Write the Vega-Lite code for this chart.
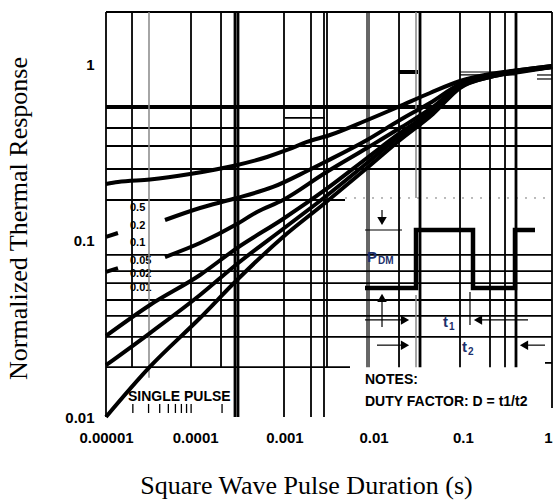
{
  "$schema": "https://vega.github.io/schema/vega-lite/v6.json",
  "width": 446,
  "height": 405,
  "autosize": {"type": "none"},
  "padding": {"left": 106, "top": 12, "right": 3, "bottom": 83},
  "background": "white",
  "config": {
    "view": {"stroke": null},
    "axis": {
      "grid": false, "ticks": false, "domain": false,
      "labelFont": "Liberation Sans", "labelFontWeight": "bold", "labelFontSize": 15, "labelColor": "black",
      "titleFont": "Liberation Serif", "titleFontWeight": "normal", "titleFontSize": 26, "titleColor": "black",
      "labelFlush": false, "labelOverlap": false, "labelBound": false
    }
  },
  "encoding": {
    "x": {
      "field": "t", "type": "quantitative",
      "scale": {"type": "log", "domain": [0.00001, 1], "nice": false},
      "axis": {
        "title": "Square Wave Pulse Duration (s)",
        "values": [0.00001, 0.0001, 0.001, 0.01, 0.1, 1],
        "labelExpr": "datum.value < 0.00005 ? '0.00001' : datum.value < 0.0005 ? '0.0001' : datum.value < 0.005 ? '0.001' : datum.value < 0.05 ? '0.01' : datum.value < 0.5 ? '0.1' : '1'",
        "labelAlign": {"condition": {"test": "datum.value >= 0.5", "value": "right"}, "value": "center"},
        "labelPadding": 13,
        "titleX": 200, "titleY": 68, "titleBaseline": "middle", "titleAlign": "center"
      }
    },
    "y": {
      "field": "v", "type": "quantitative",
      "scale": {"type": "log", "domain": [0.01, 2], "nice": false},
      "axis": {
        "title": "Normalized Thermal Response",
        "values": [0.01, 0.1, 1],
        "labelExpr": "datum.value < 0.05 ? '0.01' : datum.value < 0.5 ? '0.1' : '1'",
        "labelPadding": 12,
        "titleX": -88, "titleY": 206, "titleAngle": 270, "titleBaseline": "middle", "titleAlign": "center"
      }
    }
  },
  "datasets": {
    "curvelabels": [
      {"t": 1.858e-5, "v": 0.154, "label": "0.5"},
      {"t": 1.858e-5, "v": 0.1217, "label": "0.2"},
      {"t": 1.858e-5, "v": 0.0974, "label": "0.1"},
      {"t": 1.858e-5, "v": 0.077, "label": "0.05"},
      {"t": 1.858e-5, "v": 0.0649, "label": "0.02"},
      {"t": 1.858e-5, "v": 0.0541, "label": "0.01"}
    ],
    "hthin": [
      {"t": 1e-5, "t2": 1, "v": 2},
      {"t": 0.0010155, "t2": 0.002852, "v": 0.5},
      {"t": 1e-5, "t2": 1, "v": 0.4385},
      {"t": 1e-5, "t2": 1, "v": 0.3466},
      {"t": 1e-5, "t2": 1, "v": 0.2565},
      {"t": 1e-5, "t2": 0.00478, "v": 0.171},
      {"t": 1e-5, "t2": 1, "v": 0.0833},
      {"t": 1e-5, "t2": 1, "v": 0.0675},
      {"t": 1e-5, "t2": 1, "v": 0.0577},
      {"t": 1e-5, "t2": 1, "v": 0.0462},
      {"t": 1e-5, "t2": 1, "v": 0.0375},
      {"t": 1e-5, "t2": 1, "v": 0.0285},
      {"t": 1e-5, "t2": 0.005437, "v": 0.0192},
      {"t": 0.8346, "t2": 1, "v": 0.0203}
    ],
    "hthick": [
      {"t": 1e-5, "t2": 1, "v": 0.5773},
      {"t": 0.01927, "t2": 0.03146, "v": 0.9125}
    ],
    "hfine": [
      {"t": 0.09303, "t2": 0.405, "v": 0.9125},
      {"t": 0.09303, "t2": 0.405, "v": 0.8775},
      {"t": 0.6788, "t2": 1, "v": 0.8775},
      {"t": 0.6788, "t2": 1, "v": 0.8326}
    ],
    "hdot": [
      {"t": 0.00478, "t2": 1, "v": 0.1755}
    ],
    "vthin": [
      {"t": 1e-5, "v": 2, "v2": 0.01},
      {"t": 1.957e-5, "v": 2, "v2": 0.0192},
      {"t": 8.973e-5, "v": 2, "v2": 0.0192},
      {"t": 1.947e-4, "v": 2, "v2": 0.0192},
      {"t": 9.897e-4, "v": 2, "v2": 0.01},
      {"t": 1.987e-3, "v": 2, "v2": 0.01},
      {"t": 2.779e-3, "v": 2, "v2": 0.01},
      {"t": 3.003e-3, "v": 2, "v2": 0.0192},
      {"t": 1.927e-2, "v": 2, "v2": 0.0192},
      {"t": 9.303e-2, "v": 2, "v2": 0.0192},
      {"t": 0.2018, "v": 2, "v2": 0.0192},
      {"t": 0.2973, "v": 2, "v2": 0.0192},
      {"t": 1, "v": 2, "v2": 0.01125}
    ],
    "vthick": [
      {"t": 2.794e-4, "v": 2, "v2": 0.01},
      {"t": 3.018e-4, "v": 2, "v2": 0.01},
      {"t": 3.314e-2, "v": 2, "v2": 0.0192},
      {"t": 0.3948, "v": 2, "v2": 0.0192}
    ],
    "vfine": [
      {"t": 8.435e-3, "v": 2, "v2": 0.0192},
      {"t": 8.881e-3, "v": 2, "v2": 0.0192}
    ],
    "vgray": [
      {"t": 3.034e-5, "v": 2, "v2": 0.0167},
      {"t": 2.988e-2, "v": 2, "v2": 0.1755},
      {"t": 2.988e-2, "v": 0.0493, "v2": 0.0192}
    ],
    "curves": [
      {"seg": "0.5", "t": 1e-5, "v": 0.2108},
      {"seg": "0.5", "t": 1.362e-5, "v": 0.2164},
      {"seg": "0.5", "t": 3.113e-5, "v": 0.2236},
      {"seg": "0.5", "t": 8.744e-5, "v": 0.2402},
      {"seg": "0.5", "t": 2.653e-4, "v": 0.2667},
      {"seg": "0.5", "t": 6.381e-4, "v": 0.3001},
      {"seg": "0.5", "t": 1.0693e-3, "v": 0.3289},
      {"seg": "0.5", "t": 1.792e-3, "v": 0.3652},
      {"seg": "0.5", "t": 3.245e-3, "v": 0.4002},
      {"seg": "0.5", "t": 8.009e-3, "v": 0.4807},
      {"seg": "0.5", "t": 1.877e-2, "v": 0.5773},
      {"seg": "0.5", "t": 4.289e-2, "v": 0.6934},
      {"seg": "0.5", "t": 9.303e-2, "v": 0.8112},
      {"seg": "0.5", "t": 0.2018, "v": 0.889},
      {"seg": "0.5", "t": 0.4378, "v": 0.937},
      {"seg": "0.5", "t": 1, "v": 0.987},
      {"seg": "0.2s", "t": 1e-5, "v": 0.1054},
      {"seg": "0.2s", "t": 1.362e-5, "v": 0.111},
      {"seg": "0.2", "t": 4.586e-5, "v": 0.1316},
      {"seg": "0.2", "t": 1.132e-4, "v": 0.154},
      {"seg": "0.2", "t": 2.653e-4, "v": 0.1732},
      {"seg": "0.2", "t": 7.45e-4, "v": 0.2027},
      {"seg": "0.2", "t": 1.792e-3, "v": 0.2498},
      {"seg": "0.2", "t": 2.852e-3, "v": 0.2811},
      {"seg": "0.2", "t": 8.435e-3, "v": 0.3749},
      {"seg": "0.2", "t": 1.977e-2, "v": 0.487},
      {"seg": "0.2", "t": 4.289e-2, "v": 0.6083},
      {"seg": "0.2", "t": 9.303e-2, "v": 0.7799},
      {"seg": "0.2", "t": 0.2018, "v": 0.8775},
      {"seg": "0.2", "t": 0.4378, "v": 0.937},
      {"seg": "0.2", "t": 1, "v": 0.987},
      {"seg": "0.1s", "t": 1e-5, "v": 0.0667},
      {"seg": "0.1s", "t": 1.362e-5, "v": 0.0702},
      {"seg": "0.1", "t": 4.586e-5, "v": 0.0811},
      {"seg": "0.1", "t": 1.132e-4, "v": 0.0974},
      {"seg": "0.1", "t": 2.941e-4, "v": 0.1249},
      {"seg": "0.1", "t": 4.931e-4, "v": 0.1462},
      {"seg": "0.1", "t": 9.645e-4, "v": 0.171},
      {"seg": "0.1", "t": 2.852e-3, "v": 0.2434},
      {"seg": "0.1", "t": 8.435e-3, "v": 0.3377},
      {"seg": "0.1", "t": 1.977e-2, "v": 0.4385},
      {"seg": "0.1", "t": 4.634e-2, "v": 0.5773},
      {"seg": "0.1", "t": 9.303e-2, "v": 0.7698},
      {"seg": "0.1", "t": 0.2018, "v": 0.866},
      {"seg": "0.1", "t": 0.4378, "v": 0.9245},
      {"seg": "0.1", "t": 1, "v": 0.974},
      {"seg": "0.05", "t": 1e-5, "v": 0.0289},
      {"seg": "0.05", "t": 3.113e-5, "v": 0.0433},
      {"seg": "0.05", "t": 1.132e-4, "v": 0.0641},
      {"seg": "0.05", "t": 2.941e-4, "v": 0.0912},
      {"seg": "0.05", "t": 9.645e-4, "v": 0.1334},
      {"seg": "0.05", "t": 2.852e-3, "v": 0.1949},
      {"seg": "0.05", "t": 8.435e-3, "v": 0.2962},
      {"seg": "0.05", "t": 1.977e-2, "v": 0.4108},
      {"seg": "0.05", "t": 4.634e-2, "v": 0.555},
      {"seg": "0.05", "t": 9.303e-2, "v": 0.7598},
      {"seg": "0.05", "t": 0.2018, "v": 0.866},
      {"seg": "0.05", "t": 0.4378, "v": 0.9245},
      {"seg": "0.05", "t": 1, "v": 0.974},
      {"seg": "0.02", "t": 1e-5, "v": 0.0197},
      {"seg": "0.02", "t": 3.113e-5, "v": 0.03},
      {"seg": "0.02", "t": 1.132e-4, "v": 0.0493},
      {"seg": "0.02", "t": 2.941e-4, "v": 0.074},
      {"seg": "0.02", "t": 9.645e-4, "v": 0.117},
      {"seg": "0.02", "t": 2.852e-3, "v": 0.1778},
      {"seg": "0.02", "t": 8.435e-3, "v": 0.2774},
      {"seg": "0.02", "t": 1.977e-2, "v": 0.395},
      {"seg": "0.02", "t": 4.634e-2, "v": 0.5408},
      {"seg": "0.02", "t": 9.303e-2, "v": 0.7499},
      {"seg": "0.02", "t": 0.2018, "v": 0.8548},
      {"seg": "0.02", "t": 0.4378, "v": 0.9245},
      {"seg": "0.02", "t": 1, "v": 0.974},
      {"seg": "single", "t": 1e-5, "v": 0.01},
      {"seg": "single", "t": 3.113e-5, "v": 0.0193},
      {"seg": "single", "t": 1.132e-4, "v": 0.0365},
      {"seg": "single", "t": 2.941e-4, "v": 0.06},
      {"seg": "single", "t": 9.645e-4, "v": 0.1054},
      {"seg": "single", "t": 2.852e-3, "v": 0.1644},
      {"seg": "single", "t": 8.435e-3, "v": 0.2598},
      {"seg": "single", "t": 1.977e-2, "v": 0.3749},
      {"seg": "single", "t": 4.634e-2, "v": 0.5268},
      {"seg": "single", "t": 9.303e-2, "v": 0.7402},
      {"seg": "single", "t": 0.2018, "v": 0.8548},
      {"seg": "single", "t": 0.4378, "v": 0.9125},
      {"seg": "single", "t": 1, "v": 0.974}
    ],
    "squarewave": [
      {"i": 1, "t": 0.008009, "v": 0.0541},
      {"i": 2, "t": 0.02988, "v": 0.0541},
      {"i": 3, "t": 0.02988, "v": 0.1155},
      {"i": 4, "t": 0.1301, "v": 0.1155},
      {"i": 5, "t": 0.1301, "v": 0.0541},
      {"i": 6, "t": 0.3847, "v": 0.0541},
      {"i": 7, "t": 0.3847, "v": 0.1155},
      {"i": 8, "t": 0.6447, "v": 0.1155}
    ],
    "arrowlines": [
      {"t": 0.008009, "t2": 0.02082, "v": 0.1155, "v2": 0.1155},
      {"t": 0.012424, "t2": 0.012424, "v": 0.15, "v2": 0.128},
      {"t": 0.012424, "t2": 0.012424, "v": 0.0475, "v2": 0.0325},
      {"t": 0.008009, "t2": 0.02249, "v": 0.0356, "v2": 0.0356},
      {"t": 0.148, "t2": 0.5382, "v": 0.0356, "v2": 0.0356},
      {"t": 0.010917, "t2": 0.02249, "v": 0.0256, "v2": 0.0256},
      {"t": 0.4853, "t2": 0.8346, "v": 0.0256, "v2": 0.0256},
      {"t": 0.1204, "t2": 0.1204, "v": 0.0513, "v2": 0.0333}
    ],
    "arrowheads": [
      {"t": 0.012424, "v": 0.1299, "dir": "down"},
      {"t": 0.012424, "v": 0.0475, "dir": "up"},
      {"t": 0.02249, "v": 0.0356, "dir": "right"},
      {"t": 0.148, "v": 0.0356, "dir": "left"},
      {"t": 0.02249, "v": 0.0256, "dir": "right"},
      {"t": 0.4853, "v": 0.0256, "dir": "left"}
    ],
    "pulseticks": [
      {"t": 2e-5, "v": 0.01186, "v2": 0.01054},
      {"t": 3e-5, "v": 0.01186, "v2": 0.01054},
      {"t": 4e-5, "v": 0.01186, "v2": 0.01054},
      {"t": 5e-5, "v": 0.01186, "v2": 0.01054},
      {"t": 6e-5, "v": 0.01186, "v2": 0.01054},
      {"t": 7e-5, "v": 0.01186, "v2": 0.01054},
      {"t": 8e-5, "v": 0.01186, "v2": 0.01054},
      {"t": 9e-5, "v": 0.01186, "v2": 0.01054},
      {"t": 2e-4, "v": 0.01186, "v2": 0.01054}
    ],
    "bigtext": [
      {"t": 1.764e-5, "v": 0.013, "label": "SINGLE PULSE"},
      {"t": 0.008009, "v": 0.0162, "label": "NOTES:"},
      {"t": 0.008009, "v": 0.0122, "label": "DUTY FACTOR: D = t1/t2"}
    ],
    "pdmmain": [
      {"t": 0.008435, "v": 0.0811, "label": "P"},
      {"t": 0.06, "v": 0.0347, "label": "t"},
      {"t": 0.0979, "v": 0.025, "label": "t"}
    ],
    "pdmsub": [
      {"t": 0.0112, "v": 0.077, "label": "DM"},
      {"t": 0.07, "v": 0.0325, "label": "1"},
      {"t": 0.1144, "v": 0.0234, "label": "2"}
    ]
  },
  "layer": [
    {
      "data": {"name": "curvelabels"},
      "mark": {"type": "text", "align": "left", "baseline": "middle", "font": "Liberation Sans", "fontWeight": "bold", "fontSize": 11, "fill": "black", "color": "black"},
      "encoding": {"text": {"field": "label"}}
    },
    {
      "data": {"name": "hthin"},
      "mark": {"type": "rule", "color": "black", "strokeWidth": 1.8},
      "encoding": {"x2": {"field": "t2"}}
    },
    {
      "data": {"name": "hthick"},
      "mark": {"type": "rule", "color": "black", "strokeWidth": 4},
      "encoding": {"x2": {"field": "t2"}}
    },
    {
      "data": {"name": "hfine"},
      "mark": {"type": "rule", "color": "black", "strokeWidth": 1.2},
      "encoding": {"x2": {"field": "t2"}}
    },
    {
      "data": {"name": "hdot"},
      "mark": {"type": "rule", "color": "#777777", "strokeWidth": 1, "strokeDash": [2, 7]},
      "encoding": {"x2": {"field": "t2"}}
    },
    {
      "data": {"name": "vthin"},
      "mark": {"type": "rule", "color": "black", "strokeWidth": 1.8},
      "encoding": {"y2": {"field": "v2"}}
    },
    {
      "data": {"name": "vthick"},
      "mark": {"type": "rule", "color": "black", "strokeWidth": 2.8},
      "encoding": {"y2": {"field": "v2"}}
    },
    {
      "data": {"name": "vfine"},
      "mark": {"type": "rule", "color": "black", "strokeWidth": 1.2},
      "encoding": {"y2": {"field": "v2"}}
    },
    {
      "data": {"name": "vgray"},
      "mark": {"type": "rule", "color": "#888888", "strokeWidth": 1.5},
      "encoding": {"y2": {"field": "v2"}}
    },
    {
      "data": {"name": "curves"},
      "mark": {"type": "line", "color": "black", "strokeWidth": 4, "interpolate": "monotone"},
      "encoding": {"detail": {"field": "seg"}}
    },
    {
      "data": {"name": "squarewave"},
      "mark": {"type": "line", "color": "black", "strokeWidth": 4.5, "strokeJoin": "miter"},
      "encoding": {"order": {"field": "i"}}
    },
    {
      "data": {"name": "arrowlines"},
      "mark": {"type": "rule", "color": "black", "strokeWidth": 1.2},
      "encoding": {"x2": {"field": "t2"}, "y2": {"field": "v2"}}
    },
    {
      "data": {"name": "arrowheads"},
      "mark": {"type": "point", "filled": true, "color": "black", "opacity": 1, "size": 90},
      "encoding": {
        "shape": {"field": "dir", "type": "nominal", "scale": {"domain": ["down", "up", "right", "left"], "range": ["triangle-down", "triangle-up", "triangle-right", "triangle-left"]}, "legend": null}
      }
    },
    {
      "data": {"name": "pulseticks"},
      "mark": {"type": "rule", "color": "black", "strokeWidth": 1.3},
      "encoding": {"y2": {"field": "v2"}}
    },
    {
      "data": {"name": "bigtext"},
      "mark": {"type": "text", "align": "left", "baseline": "middle", "font": "Liberation Sans", "fontWeight": "bold", "fontSize": 14, "fill": "black", "color": "black"},
      "encoding": {"text": {"field": "label"}}
    },
    {
      "data": {"name": "pdmmain"},
      "mark": {"type": "text", "align": "left", "baseline": "middle", "font": "Liberation Sans", "fontWeight": "bold", "fontSize": 15, "color": "#1c2f6b"},
      "encoding": {"text": {"field": "label"}}
    },
    {
      "data": {"name": "pdmsub"},
      "mark": {"type": "text", "align": "left", "baseline": "middle", "font": "Liberation Sans", "fontWeight": "bold", "fontSize": 10, "color": "#1c2f6b"},
      "encoding": {"text": {"field": "label"}}
    }
  ]
}
